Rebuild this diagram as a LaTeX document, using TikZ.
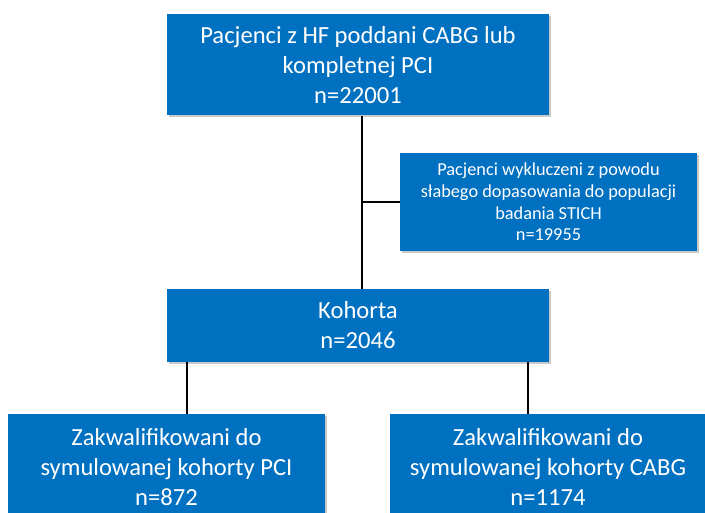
\documentclass[tikz,border=0pt]{standalone}
\usepackage{fontspec}
\setmainfont{Carlito}
\usetikzlibrary{shadows}
\definecolor{boxblue}{HTML}{0070C0}
\begin{document}
\begin{tikzpicture}[x=1pt,y=1pt,
  bluebox/.style={fill=boxblue, draw=none, text=white, align=center, inner sep=0pt,
    drop shadow={shadow xshift=2pt, shadow yshift=-2pt, opacity=0.35, fill=black!60}},
  bigtext/.style={font=\fontsize{24.6}{30}\selectfont},
  smalltext/.style={font=\fontsize{18.3}{21.7}\selectfont},
  link/.style={draw=black, line width=2.2pt}]
\clip (0,0) rectangle (705,513);
\fill[white] (0,0) rectangle (705,513);
\node[bluebox, bigtext, minimum width=382pt, minimum height=101pt] (top) at (358,448)
  {Pacjenci z HF poddani CABG lub\\kompletnej PCI\\n=22001};
\node[bluebox, smalltext, minimum width=297pt, minimum height=98pt] (side) at (548.5,311)
  {Pacjenci wykluczeni z powodu\\słabego dopasowania do populacji\\badania STICH\\n=19955};
\node[bluebox, bigtext, minimum width=382pt, minimum height=73pt] (mid) at (358,187.5)
  {Kohorta\\n=2046};
\node[bluebox, bigtext, minimum width=317pt, minimum height=106pt] (left) at (166.5,46)
  {Zakwalifikowani do\\symulowanej kohorty PCI\\n=872};
\node[bluebox, bigtext, minimum width=316pt, minimum height=106pt] (right) at (548,46)
  {Zakwalifikowani do\\symulowanej kohorty CABG\\n=1174};
\coordinate (c) at (362,0);
\coordinate (cl) at (187,0);
\coordinate (cr) at (528,0);
\draw[link] (top.south -| c) -- (mid.north -| c);
\draw[link] (side.west) -- (side.west -| c);
\draw[link] (mid.south -| cl) -- (left.north -| cl);
\draw[link] (mid.south -| cr) -- (right.north -| cr);
\end{tikzpicture}
\end{document}
